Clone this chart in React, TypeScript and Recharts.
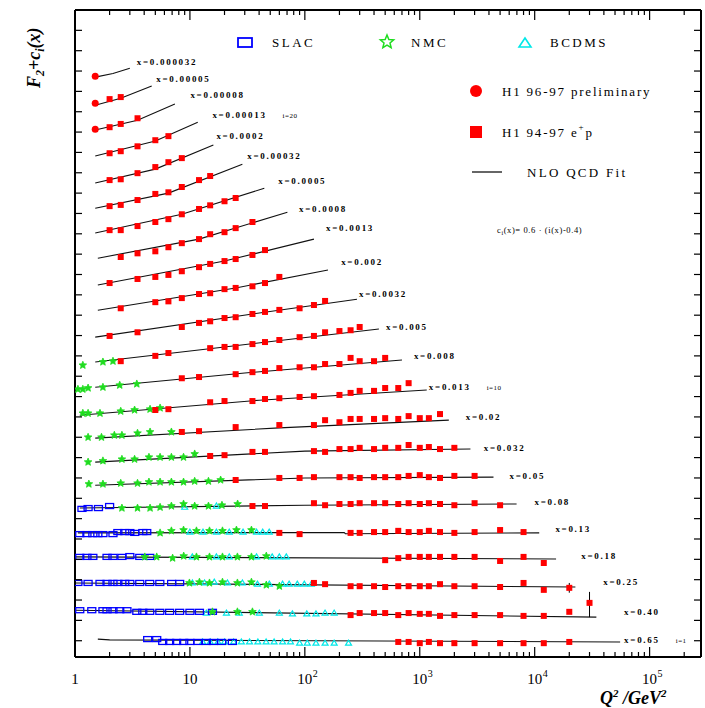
import React from "react";
import { ComposedChart, Line, Scatter, XAxis, YAxis, ErrorBar } from "recharts";

type Pt = [number, number];

// x-bin labels, from top (smallest x) to bottom
const binLabels = [
  "x=0.000032", "x=0.00005", "x=0.00008", "x=0.00013", "x=0.0002", "x=0.00032",
  "x=0.0005", "x=0.0008", "x=0.0013", "x=0.002", "x=0.0032", "x=0.005",
  "x=0.008", "x=0.013", "x=0.02", "x=0.032", "x=0.05", "x=0.08",
  "x=0.13", "x=0.18", "x=0.25", "x=0.40", "x=0.65",
];
const binNotes = ["", "", "", "i=20", "", "", "", "", "", "", "", "", "", "i=10", "", "", "", "", "", "", "", "", "i=1"];
const labelQ2 = [3.45, 5.1, 10.1, 15.7, 17, 31.6, 58.8, 89, 153, 207, 296, 508, 889, 1200, 2510, 3600, 6045, 9960, 15140, 25470, 39530, 60000, 60000];
const labelV = [14.19, 13.78, 13.38, 12.89, 12.38, 11.88, 11.27, 10.58, 10.12, 9.28, 8.49, 7.68, 6.97, 6.21, 5.47, 4.71, 4.02, 3.38, 2.72, 2.06, 1.42, 0.68, -0.01];

// NLO QCD fit curves [Q2, F2 + c_i]
const fitLines: Pt[][] = [
  [[1.5, 13.85], [2.14, 13.94], [3.0, 14.07]],
  [[1.5, 13.16], [2.5, 13.33], [4.65, 13.63]],
  [[1.5, 12.55], [3.5, 12.79], [7.4, 13.19]],
  [[1.5, 11.91], [5, 12.28], [11.7, 12.74]],
  [[1.5, 11.25], [5, 11.59], [16, 12.18]],
  [[1.5, 10.63], [6.5, 11.0], [28.6, 11.71]],
  [[1.5, 10.02], [8.5, 10.48], [44.4, 11.12]],
  [[1.58, 9.4], [12, 9.87], [70.5, 10.53]],
  [[1.58, 8.74], [20, 9.33], [120, 9.87]],
  [[1.58, 8.12], [25, 8.67], [159, 9.11]],
  [[1.5, 7.46], [35, 8.03], [284, 8.39]],
  [[1.5, 6.85], [20, 7.22], [441, 7.66]],
  [[1.5, 6.23], [30, 6.58], [700, 6.9]],
  [[1.1, 5.54], [40, 5.91], [1150, 6.16]],
  [[1.5, 4.98], [60, 5.23], [1790, 5.42]],
  [[1.5, 4.39], [100, 4.66], [2760, 4.71]],
  [[1.5, 3.82], [100, 4.0], [4380, 4.02]],
  [[1.1, 3.26], [100, 3.33], [6960, 3.36]],
  [[1.06, 2.65], [220, 2.66], [225, 2.63], [10950, 2.65]],
  [[1.0, 2.06], [15340, 2.01]],
  [[1.0, 1.42], [22600, 1.32]],
  [[1.0, 0.75], [34400, 0.58]],
  [[1.58, 0.04], [2.0, 0.02], [55400, -0.03]],
];

// H1 96-97 preliminary (circles)
const h1Prelim: Pt[] = [[1.5, 13.87], [1.5, 13.21], [1.5, 12.57]];

// H1 94-97 e+p (squares)
const h1: Pt[] = [
  [2.0, 13.31], [2.5, 13.36],
  [2.0, 12.62], [2.5, 12.7], [3.5, 12.84],
  [2, 11.98], [2.5, 12.03], [3.5, 12.15], [5, 12.3], [6.5, 12.4],
  [2, 11.32], [2.5, 11.34], [3.5, 11.49], [5, 11.64], [6.5, 11.76], [8.5, 11.86],
  [2, 10.68], [2.5, 10.71], [3.5, 10.83], [5, 10.98], [6.5, 11.02], [8.5, 11.15], [12, 11.32], [15, 11.42],
  [2, 10.09], [2.5, 10.09], [3.5, 10.19], [5, 10.29], [6.5, 10.36], [8.5, 10.48], [12, 10.61], [15, 10.7], [20, 10.8], [25, 10.88],
  [2.5, 9.43], [3.5, 9.52], [5, 9.57], [6.5, 9.67], [8.5, 9.77], [12, 9.87], [15, 9.99], [20, 10.04], [25, 10.14], [35, 10.29],
  [2, 8.79], [3.5, 8.89], [5, 8.94], [6.5, 8.99], [8.5, 9.08], [12, 9.18], [15, 9.26], [20, 9.33], [25, 9.38], [35, 9.48], [45, 9.6],
  [2.5, 8.17], [5, 8.32], [6.5, 8.34], [8.5, 8.42], [12, 8.52], [15, 8.54], [20, 8.64], [25, 8.67], [35, 8.71], [45, 8.79], [60, 8.94],
  [2, 7.49], [3.5, 7.58], [8.5, 7.71], [12, 7.81], [15, 7.85], [20, 7.93], [25, 7.95], [35, 8.03], [45, 8.08], [60, 8.13], [90, 8.17], [120, 8.25], [150, 8.35],
  [2.5, 6.87], [5, 7.0], [6.5, 7.07], [15, 7.19], [20, 7.22], [25, 7.22], [35, 7.29], [45, 7.34], [60, 7.39], [90, 7.46], [120, 7.49], [150, 7.58], [200, 7.61], [250, 7.63], [300, 7.71],
  [8.5, 6.45], [12, 6.48], [25, 6.55], [35, 6.6], [45, 6.63], [60, 6.7], [90, 6.72], [120, 6.72], [150, 6.8], [200, 6.8], [250, 6.95], [300, 6.87], [400, 6.87], [500, 6.95],
  [5, 5.67], [6.5, 5.69], [15, 5.86], [20, 5.89], [35, 5.89], [45, 5.94], [60, 5.96], [90, 5.99], [120, 6.01], [200, 6.04], [250, 6.09], [300, 6.14], [400, 6.14], [500, 6.21], [650, 6.21], [800, 6.33],
  [8.5, 5.13], [12, 5.15], [25, 5.25], [60, 5.3], [120, 5.3], [150, 5.42], [200, 5.37], [250, 5.45], [300, 5.45], [400, 5.45], [500, 5.47], [650, 5.45], [800, 5.52], [1000, 5.47], [1200, 5.47],
  [15, 4.54], [20, 4.56], [35, 4.64], [45, 4.64], [120, 4.66], [150, 4.64], [200, 4.71], [250, 4.71], [300, 4.74], [400, 4.71], [500, 4.74], [650, 4.74], [800, 4.81], [1000, 4.74], [1200, 4.76], [1500, 4.71], [2000, 4.74],
  [25, 3.95], [60, 4.0], [90, 4.0], [120, 4.02], [200, 4.02], [250, 4.02], [300, 4.0], [400, 4.02], [500, 4.02], [650, 4.02], [800, 4.05], [1000, 4.07], [1200, 4.02], [1500, 4.0], [2000, 4.05], [3000, 4.05],
  [35, 3.31], [45, 3.31], [120, 3.38], [150, 3.33], [200, 3.36], [250, 3.36], [300, 3.38], [400, 3.38], [500, 3.38], [650, 3.36], [800, 3.38], [1000, 3.36], [1200, 3.38], [1500, 3.36], [2000, 3.33], [3000, 3.38], [5000, 3.33],
  [60, 2.65], [90, 2.62], [250, 2.65], [300, 2.65], [400, 2.67], [500, 2.67], [650, 2.7], [800, 2.67], [1000, 2.67], [1200, 2.7], [1500, 2.67], [2000, 2.65], [3000, 2.67], [5000, 2.72], [8000, 2.67],
  [500, 1.98], [650, 2.03], [800, 2.06], [1000, 2.06], [1200, 2.06], [1500, 2.06], [2000, 2.06], [3000, 2.06], [5000, 1.96], [8000, 2.06], [12000, 1.91],
  [120, 1.42], [150, 1.39], [250, 1.34], [300, 1.34], [400, 1.34], [500, 1.32], [650, 1.34], [800, 1.34], [1000, 1.34], [1200, 1.34], [1500, 1.39], [2000, 1.34], [3000, 1.34], [5000, 1.32], [8000, 1.42], [12000, 1.25],
  [250, 0.63], [300, 0.68], [400, 0.68], [500, 0.68], [650, 0.63], [800, 0.68], [1000, 0.66], [1200, 0.66], [1500, 0.61], [2000, 0.63], [3000, 0.63], [5000, 0.63], [8000, 0.61], [12000, 0.61], [20000, 0.71],
  [650, -0.03], [800, -0.03], [1000, -0.06], [1200, -0.03], [1500, -0.06], [2000, -0.06], [3000, -0.06], [5000, -0.06], [8000, -0.06], [12000, -0.06], [20000, -0.03],
];

// H1 points drawn with an error bar: [Q2, value, down, up]
const h1WithErr: [number, number, number, number][] = [
  [1500, 5.57, 0.06, 0.06],
  [20000, 1.3, 0.12, 0.12],
  [30000, 0.93, 0.35, 0.27],
];

const nmc: Pt[] = [
  [1.17, 6.77], [1.75, 6.85], [2.14, 6.87],
  [1.06, 6.18], [1.17, 6.18], [1.3, 6.21], [1.75, 6.23], [2.45, 6.28], [3.45, 6.31],
  [1.17, 5.59], [1.3, 5.59], [1.65, 5.59], [2.5, 5.64], [3.3, 5.67], [4.5, 5.69], [5.5, 5.72],
  [1.3, 5.0], [1.7, 5.0], [2.2, 5.05], [2.56, 5.05], [3.5, 5.1], [4.5, 5.13], [6.9, 5.13],
  [1.3, 4.39], [1.75, 4.42], [2.56, 4.46], [3.3, 4.46], [4.4, 4.51], [5.5, 4.51], [6.9, 4.51], [8.8, 4.51], [11, 4.59],
  [1.32, 3.85], [1.75, 3.85], [2.5, 3.87], [3.5, 3.87], [4.4, 3.9], [5.5, 3.9], [6.9, 3.9], [8.8, 3.9], [11, 3.92], [14.5, 3.92], [18.5, 3.95],
  [2.56, 3.26], [3.5, 3.26], [4.5, 3.26], [5.5, 3.28], [6.9, 3.31], [8.8, 3.36], [11, 3.31], [14.5, 3.31], [19, 3.33], [26, 3.36],
  [5.5, 2.65], [6.9, 2.7], [8.8, 2.72], [11.4, 2.7], [14.8, 2.7], [19.2, 2.7], [25.4, 2.72], [34.3, 2.72],
  [4.05, 2.06], [5.14, 2.06], [7.07, 2.03], [8.83, 2.08], [11.4, 2.06], [14.8, 2.06], [19.2, 2.06], [25.9, 2.06], [34.3, 2.06], [46.2, 2.08],
  [9.9, 1.42], [12.1, 1.44], [14.8, 1.42], [19.2, 1.44], [25.9, 1.42], [34.3, 1.44], [46.2, 1.37], [60, 1.34],
  [15.7, 0.71], [25.9, 0.71], [35, 0.71],
];

const slac: Pt[] = [
  [1.15, 3.24], [1.3, 3.26], [1.6, 3.26], [2.0, 3.31],
  [1.1, 2.62], [1.27, 2.62], [1.43, 2.62], [1.58, 2.62], [1.75, 2.62], [2.14, 2.62], [2.36, 2.67], [2.71, 2.67], [3.0, 2.67], [3.31, 2.65], [3.89, 2.67], [4.21, 2.67],
  [1.1, 2.06], [1.27, 2.06], [1.43, 2.06], [1.9, 2.06], [2.14, 2.06], [2.56, 2.06], [3.0, 2.08], [3.66, 2.06], [4.47, 2.06],
  [1.06, 1.42], [1.3, 1.42], [1.65, 1.42], [1.9, 1.42], [2.14, 1.42], [2.36, 1.42], [2.71, 1.42], [3.0, 1.42], [3.66, 1.42], [4.47, 1.42], [5.47, 1.42], [6.93, 1.42], [8.14, 1.42],
  [1.1, 0.75], [1.4, 0.75], [1.75, 0.75], [1.9, 0.75], [2.14, 0.75], [2.45, 0.75], [2.83, 0.75], [3.45, 0.71], [3.89, 0.71], [4.47, 0.71], [5.47, 0.71], [6.66, 0.71], [8.14, 0.71], [10, 0.71], [12.1, 0.71], [15.7, 0.71],
  [4.29, 0.04], [5.14, 0.04], [5.8, -0.03], [6.66, -0.03], [7.66, -0.03], [8.83, -0.03], [10, -0.03], [11.7, -0.03], [13.9, -0.03], [16, -0.03], [18.9, -0.03], [23.4, -0.03],
];

const bcdms: Pt[] = [
  [9, 3.28], [17, 3.31],
  [10, 2.67], [13, 2.67], [17, 2.67], [22, 2.67], [29, 2.67], [38, 2.67], [43, 2.67], [49, 2.67],
  [10.5, 2.06], [17, 2.06], [22, 2.06], [38, 2.06], [52, 2.06], [60, 2.06], [69, 2.06],
  [10.5, 1.42], [13.4, 1.42], [16.3, 1.44], [21.2, 1.42], [28.6, 1.42], [38.7, 1.39], [49.1, 1.39], [64, 1.39], [73, 1.39], [86, 1.39], [99, 1.39], [114, 1.39],
  [13.9, 0.68], [20.8, 0.68], [26.9, 0.68], [40.2, 0.68], [60, 0.68], [78, 0.66], [104, 0.66], [125, 0.66], [150, 0.68], [180, 0.68],
  [12.9, -0.03], [15, -0.03], [17.5, -0.03], [20, -0.03], [24, -0.03], [28, -0.03], [33, -0.03], [39, -0.03], [46, -0.03], [54, -0.03], [64, -0.03], [75, -0.03], [90, -0.06], [105, -0.06], [125, -0.06], [150, -0.06], [180, -0.06], [240, -0.06],
];

const xTicks = [
  1, 2, 3, 4, 5, 6, 7, 8, 9,
  10, 20, 30, 40, 50, 60, 70, 80, 90,
  100, 200, 300, 400, 500, 600, 700, 800, 900,
  1000, 2000, 3000, 4000, 5000, 6000, 7000, 8000, 9000,
  10000, 20000, 30000, 40000, 50000, 60000, 70000, 80000, 90000,
  100000, 200000,
];
const decadeTicks = [1, 10, 100, 1000, 10000, 100000];
const decadeBase = ["1", "10", "10", "10", "10", "10"];
const decadeExp = ["", "", "2", "3", "4", "5"];
const yTicks = [
  0, 0.5, 1, 1.5, 2, 2.5, 3, 3.5, 4, 4.5, 5, 5.5, 6, 6.5, 7, 7.5,
  8, 8.5, 9, 9.5, 10, 10.5, 11, 11.5, 12, 12.5, 13, 13.5, 14, 14.5, 15,
];

const SERIF = "'Liberation Serif', 'DejaVu Serif', serif";
const RED = "#ff0000";
const GREEN = "#1fdc1f";
const BLUE = "#0000ff";
const CYAN = "#00e8e8";

const toData = (pts: Pt[]) => pts.map(([q2, v]) => ({ q2, v }));

function starPath(cx: number, cy: number, r: number) {
  const pts: string[] = [];
  for (let k = 0; k < 10; k++) {
    const rad = k % 2 === 0 ? r : r * 0.45;
    const a = -Math.PI / 2 + (k * Math.PI) / 5;
    pts.push(`${cx + rad * Math.cos(a)},${cy + rad * Math.sin(a)}`);
  }
  return pts.join(" ");
}

const squareShape = (p: any) => <rect x={p.cx - 3} y={p.cy - 3} width={6} height={6} fill={RED} />;
const circleShape = (p: any) => <circle cx={p.cx} cy={p.cy} r={3.5} fill={RED} />;
const starShape = (p: any) => (
  <polygon points={starPath(p.cx, p.cy, 4)} fill={GREEN} stroke={GREEN} strokeWidth={0.8} />
);
const slacShape = (p: any) => (
  <rect x={p.cx - 4} y={p.cy - 2.5} width={8} height={5} fill="none" stroke={BLUE} strokeWidth={1.3} />
);
const bcdmsShape = (p: any) => (
  <polygon
    points={`${p.cx},${p.cy - 3} ${p.cx - 3},${p.cy + 2} ${p.cx + 3},${p.cy + 2}`}
    fill="none"
    stroke={CYAN}
    strokeWidth={1.2}
  />
);
const labelShape = (p: any) => (
  <text
    x={p.cx}
    y={p.cy}
    dominantBaseline="middle"
    fontFamily={SERIF}
    fontSize={9}
    fontWeight="bold"
    letterSpacing={1.7}
    fill="#000"
  >
    {p.payload.text}
    {p.payload.note ? (
      <tspan dx={16} fontSize={7} fontWeight="normal" letterSpacing={0.5}>
        {p.payload.note}
      </tspan>
    ) : null}
  </text>
);

const BottomTick = (p: any) => {
  const i = decadeTicks.indexOf(p.payload.value);
  const major = i >= 0;
  return (
    <g>
      <line x1={p.x} x2={p.x} y1={p.y} y2={p.y - (major ? 10 : 5)} stroke="#000" strokeWidth={1.2} />
      {major && (
        <text x={p.x} y={p.y + 27} textAnchor="middle" fontFamily={SERIF} fontSize={15} fill="#000">
          {decadeBase[i]}
        </text>
      )}
      {major && decadeExp[i] && (
        <text x={p.x + 8} y={p.y + 20} fontFamily={SERIF} fontSize={10} fill="#000">
          {decadeExp[i]}
        </text>
      )}
    </g>
  );
};
const TopTick = (p: any) => {
  const major = decadeTicks.indexOf(p.payload.value) >= 0;
  return <line x1={p.x} x2={p.x} y1={p.y} y2={p.y + (major ? 10 : 5)} stroke="#000" strokeWidth={1.2} />;
};
const LeftTick = (p: any) => <line x1={p.x} x2={p.x + 7} y1={p.y} y2={p.y} stroke="#000" strokeWidth={1.2} />;
const RightTick = (p: any) => <line x1={p.x} x2={p.x - 7} y1={p.y} y2={p.y} stroke="#000" strokeWidth={1.2} />;

export default function App() {
  const labelData = binLabels.map((text, i) => ({ q2: labelQ2[i], v: labelV[i], text, note: binNotes[i] }));
  const errData = h1WithErr.map(([q2, v, lo, hi]) => ({ q2, v, err: [lo, hi] }));
  const axisLine = { stroke: "#000", strokeWidth: 2 };
  const xDomain: [number, number] = [1, 280000];
  const yDomain: [number, number] = [-0.4, 15.5];

  return (
    <div style={{ position: "absolute", left: 0, top: 0, width: 705, height: 708, background: "#fff" }}>
      <ComposedChart width={705} height={708} margin={{ top: 9, right: 3, bottom: 50, left: 74 }}>
        <XAxis
          dataKey="q2"
          type="number"
          scale="log"
          domain={xDomain}
          allowDataOverflow
          ticks={xTicks}
          interval={0}
          height={1}
          tickSize={0}
          tickMargin={0}
          tickLine={false}
          axisLine={axisLine}
          tick={BottomTick}
        />
        <XAxis
          xAxisId="top"
          orientation="top"
          dataKey="q2"
          type="number"
          scale="log"
          domain={xDomain}
          allowDataOverflow
          ticks={xTicks}
          interval={0}
          height={1}
          tickSize={0}
          tickMargin={0}
          tickLine={false}
          axisLine={axisLine}
          tick={TopTick}
        />
        <YAxis
          dataKey="v"
          type="number"
          domain={yDomain}
          allowDataOverflow
          ticks={yTicks}
          interval={0}
          width={1}
          tickSize={0}
          tickMargin={0}
          tickLine={false}
          axisLine={axisLine}
          tick={LeftTick}
        />
        <YAxis
          yAxisId="right"
          orientation="right"
          dataKey="v"
          type="number"
          domain={yDomain}
          allowDataOverflow
          ticks={yTicks}
          interval={0}
          width={1}
          tickSize={0}
          tickMargin={0}
          tickLine={false}
          axisLine={axisLine}
          tick={RightTick}
        />

        {fitLines.map((pts, i) => (
          <Line
            key={`fit-${i}`}
            data={toData(pts)}
            dataKey="v"
            type="linear"
            stroke="#111"
            strokeWidth={1.1}
            dot={false}
            activeDot={false}
            isAnimationActive={false}
          />
        ))}

        <Scatter data={toData(bcdms)} dataKey="v" shape={bcdmsShape} isAnimationActive={false} />
        <Scatter data={toData(slac)} dataKey="v" shape={slacShape} isAnimationActive={false} />
        <Scatter data={toData(nmc)} dataKey="v" shape={starShape} isAnimationActive={false} />
        <Scatter data={toData(h1)} dataKey="v" shape={squareShape} isAnimationActive={false} />
        <Scatter data={errData} dataKey="v" shape={squareShape} isAnimationActive={false}>
          <ErrorBar dataKey="err" direction="y" width={0} stroke="#000" strokeWidth={1} />
        </Scatter>
        <Scatter data={toData(h1Prelim)} dataKey="v" shape={circleShape} isAnimationActive={false} />
        <Scatter data={labelData} dataKey="v" shape={labelShape} isAnimationActive={false} />
      </ComposedChart>

      <svg
        width={705}
        height={708}
        style={{ position: "absolute", left: 0, top: 0, pointerEvents: "none" }}
        fontFamily={SERIF}
      >
        {/* legend, top row */}
        <rect x={238} y={38} width={14} height={9} fill="none" stroke={BLUE} strokeWidth={1.8} />
        <text x={272} y={47} fontSize={13} letterSpacing={2.5}>SLAC</text>
        <polygon points={starPath(387, 42, 7)} fill="none" stroke={GREEN} strokeWidth={1.5} />
        <text x={411} y={47} fontSize={13} letterSpacing={2.5}>NMC</text>
        <polygon points="525,38 519,47 531,47" fill="none" stroke={CYAN} strokeWidth={1.6} />
        <text x={550} y={47} fontSize={13} letterSpacing={2.5}>BCDMS</text>

        {/* legend, right column */}
        <circle cx={476} cy={91} r={6} fill={RED} />
        <text x={502} y={96} fontSize={13} letterSpacing={1.8}>H1 96-97 preliminary</text>
        <rect x={470} y={126} width={12} height={12} fill={RED} />
        <text x={502} y={137} fontSize={13} letterSpacing={1.8}>
          H1 94-97 e<tspan dy={-7} fontSize={9}>+</tspan>
          <tspan dy={7}>p</tspan>
        </text>
        <line x1={472} x2={502} y1={172} y2={172} stroke="#000" strokeWidth={1.2} />
        <text x={527} y={177} fontSize={13} letterSpacing={2.3}>NLO QCD Fit</text>
        <text x={497} y={233} fontSize={8.5} letterSpacing={0.6}>
          c<tspan dy={2} fontSize={6}>i</tspan>
          <tspan dy={-2}>(x)= 0.6 · (i(x)-0.4)</tspan>
        </text>

        {/* axis titles */}
        <text
          transform="translate(40,88) rotate(-90)"
          fontSize={18}
          fontWeight="bold"
          fontStyle="italic"
        >
          F<tspan dy={4} fontSize={12}>2</tspan>
          <tspan dy={-4}>+c</tspan>
          <tspan dy={4} fontSize={12}>i</tspan>
          <tspan dy={-4}>(x)</tspan>
        </text>
        <text x={600} y={704} fontSize={18} fontWeight="bold" fontStyle="italic">
          Q<tspan dy={-7} fontSize={11}>2</tspan>
          <tspan dy={7}> /GeV</tspan>
          <tspan dy={-7} fontSize={11}>2</tspan>
        </text>
      </svg>
    </div>
  );
}
